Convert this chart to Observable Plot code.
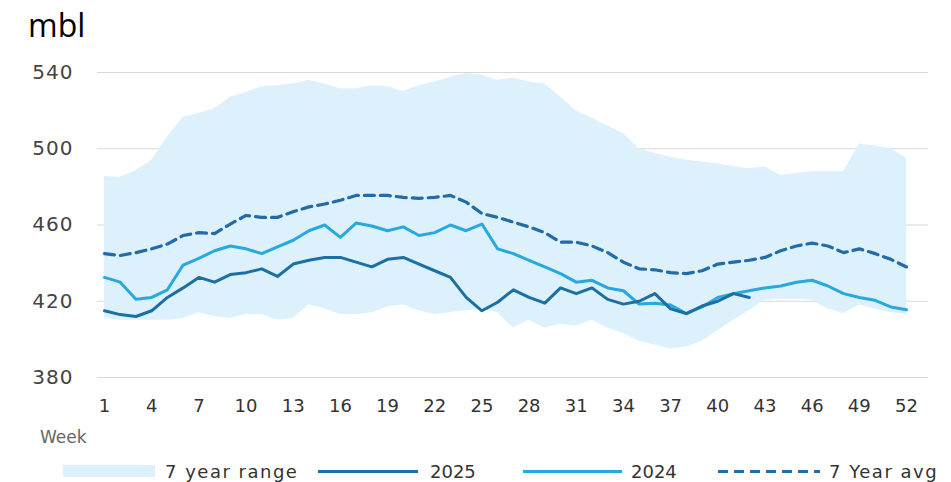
<!DOCTYPE html>
<html>
<head>
<meta charset="utf-8">
<script src="https://cdn.jsdelivr.net/npm/d3@7"></script>
<script src="https://cdn.jsdelivr.net/npm/@observablehq/plot@0.6"></script>
<style>
  html, body { margin: 0; padding: 0; background: #fff; }
  #wrap { position: relative; width: 951px; height: 482px; overflow: hidden; font-family: "DejaVu Sans", sans-serif; }
  #chart { position: absolute; left: 0; top: 0; }
  #chart svg g[aria-label="y-axis tick label"] text { letter-spacing: 1px; }
  .abs { position: absolute; line-height: 1; white-space: nowrap; }
  #title { left: 28px; top: 9px; font-family: "Open Sans", sans-serif; font-size: 32px; color: #000; }
  #week { left: 40px; top: 429px; font-size: 17px; color: #666; }
  .leg { top: 463px; font-size: 18px; color: #333; }
  .wide { letter-spacing: 1.5px; }
  .sw { position: absolute; }
</style>
</head>
<body>
<div id="wrap">
  <div id="chart"></div>
  <div id="title" class="abs">mbl</div>
  <div id="week" class="abs">Week</div>
  <div id="legend"></div>
</div>
<script>
// Weeks 1..52
const weeks = d3.range(1, 53);
const xTicks = [1, 4, 7, 10, 13, 16, 19, 22, 25, 28, 31, 34, 37, 40, 43, 46, 49, 52];
const yTicks = [380, 420, 460, 500, 540];

// 7 year range (low / high)
const rangeLow = [411, 410, 410, 410, 410, 411, 414, 412, 411, 413, 413, 410, 411, 418, 416, 413, 413, 414, 417, 418,
  415, 413, 414, 415, 416, 414, 406, 410, 406, 408, 407, 410, 406, 403, 399, 397, 395, 396, 399, 404.5,
  410, 415, 420.5, 421, 421, 420.5, 416, 413.5, 418, 416, 414, 413];
const rangeHigh = [485.5, 485, 488.5, 494, 506, 516.5, 518.5, 521, 527, 529.5, 532.5, 533, 534, 536, 534, 531.5, 531.5, 533, 532.5, 530,
  533, 535, 537.5, 539.5, 538.5, 536, 537, 535, 534, 527, 520, 516, 512, 508, 500, 497.5, 495.5, 494, 493, 492,
  490.5, 489.5, 490.5, 486, 487, 488, 488, 488, 502.5, 501.5, 500, 495];

// 2025 (weeks 1..42)
const s2025 = [415, 413, 412, 415, 422, 427, 432.5, 430, 434, 435, 437, 433, 439.5, 441.5, 443, 443, 440.5, 438, 442, 443,
  439.5, 436, 432.5, 422, 415, 419.5, 426, 422, 419, 427, 424, 427, 421, 418.5, 420, 424, 416, 413.5, 417.5, 420,
  424, 422];

// 2024 (weeks 1..52)
const s2024 = [432.5, 430, 421, 422, 426, 439, 442.5, 446.5, 449, 447.5, 445, 448.5, 452, 457, 460, 453.5, 461, 459.5, 457, 459,
  454.5, 456, 460, 457, 460.5, 447.5, 445, 441.5, 438, 434.5, 430, 431, 427, 425.5, 418.5, 419, 418, 413.5, 417, 422,
  424, 425.5, 427, 428, 430, 431, 428, 424, 422, 420.5, 417, 415.5];

// 7 year average (weeks 1..52)
const avg7 = [445, 444, 445.5, 447.5, 450, 454.5, 456, 455.5, 460.5, 465, 464, 464, 467, 469.5, 471, 473, 475.5, 475.5, 475.5, 474.5,
  474, 474.5, 475.5, 472, 466, 464, 461.5, 459, 456, 451, 451, 449, 445.5, 440.5, 437, 436.5, 435, 434.5, 436, 439.5,
  440.5, 441.5, 443, 446.5, 449, 450.5, 449, 445.5, 447.5, 445, 442, 438];

const colors = { range: "#dcf1fb", y2025: "#1b6fa3", y2024: "#27a8df", avg: "#236aa9" };

const rows = weeks.map((w, i) => ({ week: w, lo: rangeLow[i], hi: rangeHigh[i], v2024: s2024[i], avg: avg7[i] }));
const rows2025 = s2025.map((v, i) => ({ week: weeks[i], v }));

const pxPerWeek = (906 - 104) / 51;
const chart = Plot.plot({
  width: 951,
  height: 420,
  marginTop: 72,
  marginBottom: 43,
  marginLeft: 97,
  marginRight: 23,
  style: { fontFamily: "DejaVu Sans, sans-serif", background: "transparent" },
  x: { type: "linear", domain: [1 - 7 / pxPerWeek, 52 + 22 / pxPerWeek] },
  y: { domain: [380, 540] },
  marks: [
    Plot.gridY(yTicks, { stroke: "#d8d8d8", strokeOpacity: 1, strokeWidth: 1.2 }),
    Plot.areaY(rows, { x: "week", y1: "lo", y2: "hi", fill: colors.range }),
    Plot.line(rows, { x: "week", y: "avg", stroke: colors.avg, strokeWidth: 3.2, strokeDasharray: "10,6" }),
    Plot.line(rows, { x: "week", y: "v2024", stroke: colors.y2024, strokeWidth: 3 }),
    Plot.line(rows2025, { x: "week", y: "v", stroke: colors.y2025, strokeWidth: 3 }),
    Plot.axisY(yTicks, { tickSize: 0, tickPadding: 24, fontSize: 20, color: "#444", label: null }),
    Plot.axisX(xTicks, { tickSize: 0, tickPadding: 22, fontSize: 18, color: "#333", label: null })
  ]
});
document.getElementById("chart").appendChild(chart);

// Legend
const legendItems = [
  { label: "7 year range", kind: "rect", color: colors.range, sx: 63, sw: 92, tx: 165, wide: true },
  { label: "2025", kind: "line", color: colors.y2025, sx: 318, sw: 100, tx: 430, wide: false },
  { label: "2024", kind: "line", color: colors.y2024, sx: 523, sw: 99, tx: 631, wide: false },
  { label: "7 Year avg", kind: "dash", color: colors.avg, sx: 718, sw: 102, tx: 829, wide: true }
];
const leg = document.getElementById("legend");
legendItems.forEach(it => {
  const s = document.createElement("div");
  s.className = "sw";
  s.style.left = it.sx + "px";
  s.style.width = it.sw + "px";
  if (it.kind === "rect") {
    s.style.top = "465px"; s.style.height = "12px"; s.style.background = it.color;
  } else if (it.kind === "line") {
    s.style.top = "470px"; s.style.height = "3px"; s.style.background = it.color;
  } else {
    s.style.top = "470px"; s.style.height = "3px";
    s.style.background = `repeating-linear-gradient(to right, ${it.color} 0 10px, transparent 10px 16px)`;
  }
  leg.appendChild(s);
  const t = document.createElement("div");
  t.className = "abs leg" + (it.wide ? " wide" : "");
  t.style.left = it.tx + "px";
  t.textContent = it.label;
  leg.appendChild(t);
});
</script>
</body>
</html>
